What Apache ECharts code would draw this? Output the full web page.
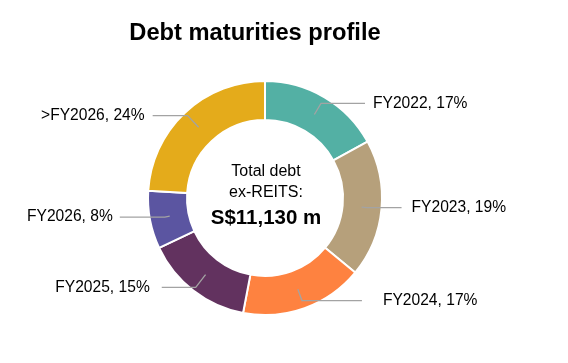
<!DOCTYPE html>
<html><head><meta charset="utf-8">
<script src="https://cdn.jsdelivr.net/npm/echarts@6/dist/echarts.min.js"></script>
<style>html,body{margin:0;padding:0;background:#fff}#c{width:568px;height:363px}</style>
</head><body><div id="c"></div>
<script>
const categories = ['FY2022', 'FY2023', 'FY2024', 'FY2025', 'FY2026', '>FY2026'];
const shares = [17, 19, 17, 15, 8, 24];
const colors = ['#53b0a4', '#b6a07b', '#fe8240', '#62325f', '#5b55a1', '#e4ab1b'];
const titleText = 'Debt maturities profile';
const centerLines = ['Total debt', 'ex-REITS:', 'S$11,130 m'];

const lineLen = [13, 5, 12, 16, 5, 16];
const lineLen2 = [44, 35, 60, 34, 45, 35];
const labelGap = [8, 10, 21, 12, 7, 8];

const FONT = "'Liberation Sans', Arial, sans-serif";
const chart = echarts.init(document.getElementById('c'), null, {renderer: 'canvas'});

const ringData = categories.map((c, i) => ({name: c, value: shares[i], itemStyle: {color: colors[i]}}));
const labelData = categories.map((c, i) => ({
  name: c, value: shares[i],
  labelLine: {length: lineLen[i], length2: lineLen2[i]},
  label: {distanceToLabelLine: labelGap[i]}
}));

chart.setOption({
  animation: false,
  title: {
    text: titleText, left: 250, top: 16, textAlign: 'center',
    textStyle: {fontFamily: FONT, fontWeight: 'bold', fontSize: 23.7, color: '#000'}
  },
  graphic: [
    {type: 'text', x: 266, y: 172, style: {text: centerLines[0], align: 'center', verticalAlign: 'middle', font: "16px " + FONT, fill: '#000'}},
    {type: 'text', x: 266, y: 193, style: {text: centerLines[1], align: 'center', verticalAlign: 'middle', font: "16px " + FONT, fill: '#000'}},
    {type: 'text', x: 266, y: 218, style: {text: centerLines[2], align: 'center', verticalAlign: 'middle', font: "bold 20.5px " + FONT, fill: '#000'}}
  ],
  series: [
    {
      type: 'pie', center: [265, 198], radius: [78, 117], startAngle: 90, clockwise: true,
      silent: true, label: {show: false}, labelLine: {show: false},
      itemStyle: {borderColor: '#fff', borderWidth: 2},
      data: ringData, z: 2
    },
    {
      type: 'pie', center: [265, 198], radius: [0, 97], startAngle: 90, clockwise: true,
      silent: true, avoidLabelOverlap: false, z: 3,
      itemStyle: {color: 'rgba(0,0,0,0)', borderWidth: 0},
      label: {show: true, position: 'outside', formatter: '{b}, {c}%', fontFamily: FONT, fontSize: 15.6, color: '#000'},
      labelLine: {show: true, lineStyle: {color: '#a3a3a3', width: 1.3}},
      data: labelData
    }
  ]
});
</script></body></html>
